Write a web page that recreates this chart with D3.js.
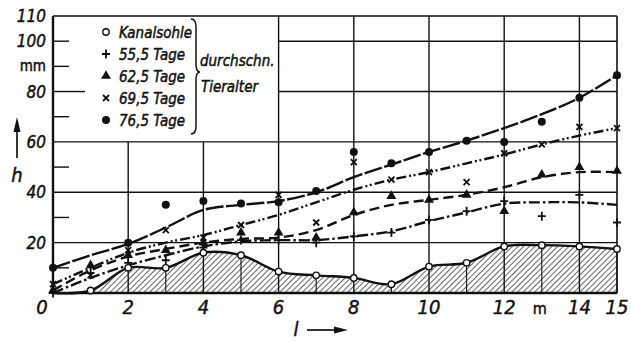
<!DOCTYPE html>
<html>
<head>
<meta charset="utf-8">
<script src="https://cdn.jsdelivr.net/npm/d3@7"></script>
<style>
  html, body { margin: 0; padding: 0; background: #fff; }
  text { fill: #111; font-style: italic; stroke: #111; stroke-width: 0.45px; }
  .num { font-family: "Liberation Sans Narrow", "DejaVu Sans Condensed", sans-serif; }
  .lab { font-family: "DejaVu Sans Condensed", "Liberation Sans Narrow", sans-serif; }
</style>
</head>
<body>
<div id="chart"></div>
<script>
// positions along the channel, m
const lPos = [0, 1, 2, 3, 4, 5, 6, 7, 8, 9, 10, 11, 12, 13, 14, 15];

// channel floor (Kanalsohle), mm
const kanalsohle = [0, 1, 10, 10, 16, 15, 8.5, 7, 6, 3.5, 10.5, 12, 18.5, 19, 18.5, 17.5];

// measured points per average animal age
const pts55 = [0, 8, 12, 13, 18, 21, 21, 20, 22.5, 24, 29, 32.5, 36.5, 30.5, 39, 28];
const pts62 = [1, 11, 15, 17, 20, 24, 24, 22, 32, 38.5, 37, 39, 32.5, 47, 50, 48.5];
const pts69 = [3.5, 7, 17, 25, 22, 27, 39, 28, 52, 45, 48, 44, 55.5, 59, 66, 65.5];
const pts76 = [10, null, 20, 35, 36.5, 35.5, 36, 40.5, 56, 51.5, 56, 60.5, 60, 68, 77.5, 86.5];

// drawn (smoothed) curves
const fit55 = [0, 6, 11, 15, 18.5, 20.5, 21, 21, 22.5, 24.5, 28.5, 32, 35.5, 36, 36, 35];
const fit62 = [1, 9, 14.5, 17.5, 20, 21.5, 22, 25, 31, 35, 37, 39, 42, 46, 48, 48];
const fit69 = [3.5, 10, 16, 20, 23, 27, 31, 36, 41, 45, 48, 51.5, 55, 59, 62.5, 65.5];
const fit76 = [10, 15, 19.5, 26, 33, 35, 36.5, 40, 46, 51, 56, 60.5, 65.5, 71, 77.5, 86.5];

const yTicksLabel = [110, 100, 80, 60, 40, 20];
const yTicksShort = [10, 30, 50, 70, 90, 100];
const xTicksLabel = [2, 4, 6, 8, 10, 12, 14, 15];

const legendNames = ['Kanalsohle', '55,5 Tage', '62,5 Tage', '69,5 Tage', '76,5 Tage'];
const legendKinds = ['open', 'plus', 'tri', 'cross', 'dot'];

const width = 631;
const height = 342;

const svg = d3.select('#chart')
    .append('svg')
    .attr('width', width)
    .attr('height', height);

const x = d3.scaleLinear().domain([0, 15]).range([53, 617]);
const y = d3.scaleLinear().domain([0, 110]).range([293, 16]);

// hatch pattern
svg.append('defs')
    .append('pattern')
    .attr('id', 'hatch')
    .attr('patternUnits', 'userSpaceOnUse')
    .attr('width', 4)
    .attr('height', 4)
    .attr('patternTransform', 'rotate(45)')
    .append('line')
    .attr('x1', 0).attr('y1', 0)
    .attr('x2', 0).attr('y2', 4)
    .attr('stroke', '#111')
    .attr('stroke-width', 1.3);

const grid = svg.append('g').attr('stroke', '#111').attr('fill', 'none');

// horizontal grid lines
[20, 40, 60].forEach(v => {
    grid.append('line')
        .attr('x1', x(0)).attr('x2', x(15))
        .attr('y1', y(v)).attr('y2', y(v))
        .attr('stroke-width', 1.4);
});
[80, 100].forEach(v => {
    grid.append('line')
        .attr('x1', x(6)).attr('x2', x(15))
        .attr('y1', y(v)).attr('y2', y(v))
        .attr('stroke-width', 1.4);
});
grid.append('line')
    .attr('x1', x(0)).attr('x2', x(15))
    .attr('y1', y(110)).attr('y2', y(110))
    .attr('stroke-width', 1.7);

// vertical grid lines
[2, 4].forEach(v => {
    grid.append('line')
        .attr('x1', x(v)).attr('x2', x(v))
        .attr('y1', y(0)).attr('y2', y(60))
        .attr('stroke-width', 1.4);
});
[6, 8, 10, 12, 14].forEach(v => {
    grid.append('line')
        .attr('x1', x(v)).attr('x2', x(v))
        .attr('y1', y(0)).attr('y2', y(110))
        .attr('stroke-width', 1.4);
});
grid.append('line')
    .attr('x1', x(15)).attr('x2', x(15))
    .attr('y1', y(0)).attr('y2', y(110))
    .attr('stroke-width', 1.6);

// left ticks
yTicksShort.forEach(v => {
    grid.append('line')
        .attr('x1', x(0)).attr('x2', x(0) + 16)
        .attr('y1', y(v)).attr('y2', y(v))
        .attr('stroke-width', 1.4);
});
grid.append('line')
    .attr('x1', x(0)).attr('x2', x(0) + 32)
    .attr('y1', y(80)).attr('y2', y(80))
    .attr('stroke-width', 1.4);

// channel floor area
const areaGen = d3.area()
    .x((d, i) => x(lPos[i]))
    .y0(y(0))
    .y1(d => y(d))
    .curve(d3.curveCatmullRom.alpha(0.5));

svg.append('path')
    .datum(kanalsohle)
    .attr('fill', 'url(#hatch)')
    .attr('d', areaGen);

// measurement stems inside the floor area
const stems = svg.append('g').attr('stroke', '#111').attr('stroke-width', 1.1);
lPos.filter(l => l % 2 === 1).forEach(l => {
    stems.append('line')
        .attr('x1', x(l)).attr('x2', x(l))
        .attr('y1', y(0)).attr('y2', y(kanalsohle[l]));
});

// axes
svg.append('line')
    .attr('x1', x(0)).attr('x2', x(0))
    .attr('y1', y(0) + 1).attr('y2', y(110))
    .attr('stroke', '#111').attr('stroke-width', 2.4);
svg.append('line')
    .attr('x1', x(0)).attr('x2', x(15))
    .attr('y1', y(0)).attr('y2', y(0))
    .attr('stroke', '#111').attr('stroke-width', 2.4);

const lineGen = d3.line()
    .x((d, i) => x(lPos[i]))
    .y(d => y(d))
    .curve(d3.curveCatmullRom.alpha(0.5));

svg.append('path')
    .datum(kanalsohle)
    .attr('fill', 'none')
    .attr('stroke', '#111')
    .attr('stroke-width', 2.4)
    .attr('d', lineGen);

const series = [
    { fit: fit55, pts: pts55, kind: 'plus', dash: '11,3,2.5,3' },
    { fit: fit62, pts: pts62, kind: 'tri', dash: '10,5' },
    { fit: fit69, pts: pts69, kind: 'cross', dash: '10,3,2,2.5,2,3' },
    { fit: fit76, pts: pts76, kind: 'dot', dash: '18,2.5' }
];

series.forEach(s => {
    svg.append('path')
        .datum(s.fit)
        .attr('fill', 'none')
        .attr('stroke', '#111')
        .attr('stroke-width', 2.4)
        .attr('stroke-dasharray', s.dash)
        .attr('d', lineGen);
});

function marker(g, kind, cx, cy) {
    if (kind === 'open') {
        g.append('circle').attr('cx', cx).attr('cy', cy).attr('r', 3.2)
            .attr('fill', '#fff').attr('stroke', '#111').attr('stroke-width', 1.4);
    } else if (kind === 'dot') {
        g.append('circle').attr('cx', cx).attr('cy', cy).attr('r', 4)
            .attr('fill', '#111');
    } else if (kind === 'tri') {
        g.append('path')
            .attr('transform', `translate(${cx},${cy})`)
            .attr('d', d3.symbol().type(d3.symbolTriangle).size(42)())
            .attr('fill', '#111');
    } else if (kind === 'plus') {
        g.append('path')
            .attr('d', `M${cx - 4},${cy}H${cx + 4}M${cx},${cy - 4.5}V${cy + 4.5}`)
            .attr('stroke', '#111').attr('stroke-width', 1.8);
    } else if (kind === 'cross') {
        g.append('path')
            .attr('d', `M${cx - 3},${cy - 3}L${cx + 3},${cy + 3}M${cx - 3},${cy + 3}L${cx + 3},${cy - 3}`)
            .attr('stroke', '#111').attr('stroke-width', 1.8);
    }
}

const marks = svg.append('g');
series.forEach(s => {
    s.pts.forEach((v, i) => {
        if (v !== null) marker(marks, s.kind, x(lPos[i]), y(v));
    });
});
kanalsohle.forEach((v, i) => {
    if (i > 0) marker(marks, 'open', x(lPos[i]), y(v));
});

// y labels
const yLab = svg.append('g').attr('class', 'num').attr('font-size', 17).attr('text-anchor', 'end');
yTicksLabel.forEach(v => {
    yLab.append('text')
        .attr('x', 46)
        .attr('y', y(v) + 6)
        .text(v);
});
yLab.append('text')
    .attr('class', 'lab')
    .attr('x', 46)
    .attr('y', y(90) + 5)
    .attr('font-size', 15)
    .style('font-style', 'normal')
    .text('mm');

// x labels
const xLab = svg.append('g').attr('class', 'num').attr('font-size', 20).attr('text-anchor', 'middle');
xTicksLabel.forEach(v => {
    xLab.append('text')
        .attr('x', x(v))
        .attr('y', 314)
        .text(v);
});
xLab.append('text').attr('x', 42).attr('y', 314).text('0');
xLab.append('text')
    .attr('class', 'lab')
    .attr('x', x(13) - 2)
    .attr('y', 314)
    .attr('font-size', 16)
    .style('font-style', 'normal')
    .text('m');

// axis names with arrows
svg.append('text').attr('class', 'lab').attr('font-size', 20)
    .attr('x', 17).attr('y', 182).attr('text-anchor', 'middle').text('h');
svg.append('line').attr('x1', 17).attr('x2', 17).attr('y1', 158).attr('y2', 128)
    .attr('stroke', '#111').attr('stroke-width', 1.7);
svg.append('path').attr('d', 'M13.5,132 L17,117 L20.5,132 Z').attr('fill', '#111');

svg.append('text').attr('class', 'lab').attr('font-size', 20)
    .attr('x', 296).attr('y', 336).attr('text-anchor', 'middle').text('l');
svg.append('line').attr('x1', 307).attr('x2', 336).attr('y1', 330).attr('y2', 330)
    .attr('stroke', '#111').attr('stroke-width', 1.7);
svg.append('path').attr('d', 'M334,326.5 L348,330 L334,333.5 Z').attr('fill', '#111');

// legend
const leg = svg.append('g');
legendNames.forEach((name, i) => {
    const ly = 32 + i * 22;
    marker(leg, legendKinds[i], 106, ly);
    leg.append('text')
        .attr('class', 'lab')
        .attr('font-size', 15)
        .attr('x', 119)
        .attr('y', ly + 5.5)
        .text(name);
});
leg.append('path')
    .attr('d', 'M191,19 Q196,19 196,27 L196,64 Q196,72 200,72 Q196,72 196,80 L196,126 Q196,134 191,134')
    .attr('fill', 'none')
    .attr('stroke', '#111')
    .attr('stroke-width', 1.5);
leg.append('text').attr('class', 'lab').attr('font-size', 15)
    .attr('x', 200).attr('y', 66).text('durchschn.');
leg.append('text').attr('class', 'lab').attr('font-size', 15)
    .attr('x', 201).attr('y', 92).text('Tieralter');
</script>
</body>
</html>
